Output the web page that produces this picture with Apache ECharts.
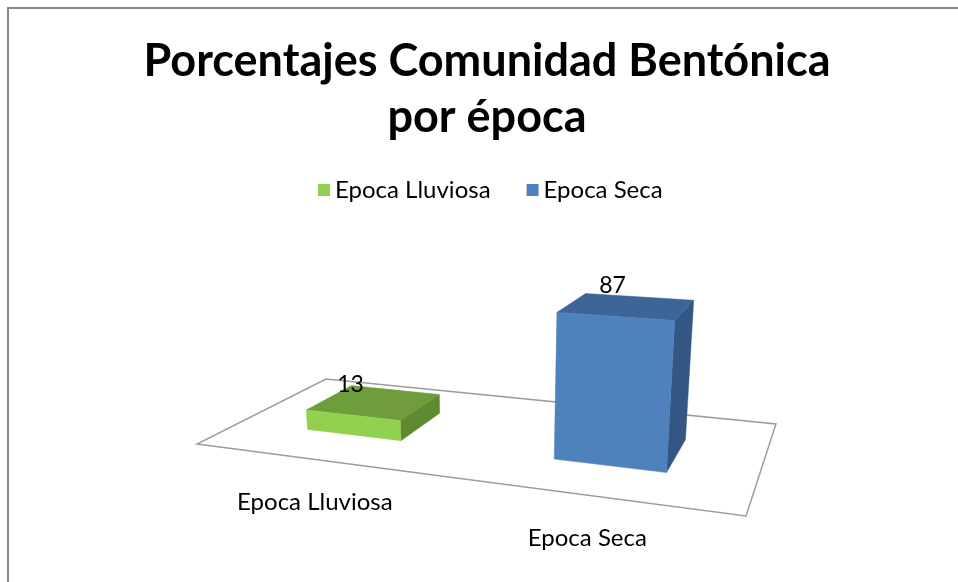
<!DOCTYPE html>
<html>
<head>
<meta charset="utf-8">
<script src="https://cdn.jsdelivr.net/npm/echarts@6/dist/echarts.min.js"></script>
<style>
html,body{margin:0;padding:0;background:#fff;}
#chart{width:958px;height:582px;}
</style>
</head>
<body>
<div id="chart"></div>
<script>
// ---- data ----
const categories = ['Epoca Lluviosa', 'Epoca Seca'];
const values = [13, 87];
const seriesNames = ['Epoca Lluviosa', 'Epoca Seca'];
const titleText = 'Porcentajes Comunidad Bentónica\npor época';

// ---- styles ----
const faceColors = [
  { front: '#92D050', top: '#6F9D3B', side: '#5E8A32' },
  { front: '#4F81BD', top: '#3E6597', side: '#335682' }
];
const FONT = 'Lato';

// ---- perspective projection of the plot floor (layout) ----
// floor quad corners (u,v): (0,0) front-left, (1,0) front-right, (1,1) back-right, (0,1) back-left
const floorQuad = [[197, 444], [746, 516], [776, 424], [326, 379]];
const vanish = [497, 3617];   // vertical vanishing point
const LAM = -0.0486;          // height scale
const depth = [0.30, 0.68];   // bar depth range on floor
const barRatio = 0.4;         // bar width / category band

function makeHomography(q) {
  const [x0, y0] = q[0], [x1, y1] = q[1], [x2, y2] = q[2], [x3, y3] = q[3];
  const dx1 = x1 - x2, dx2 = x3 - x2, dx3 = x0 - x1 + x2 - x3;
  const dy1 = y1 - y2, dy2 = y3 - y2, dy3 = y0 - y1 + y2 - y3;
  const den = dx1 * dy2 - dx2 * dy1;
  const g = (dx3 * dy2 - dx2 * dy3) / den;
  const h = (dx1 * dy3 - dx3 * dy1) / den;
  return {
    a: x1 - x0 + g * x1, b: x3 - x0 + h * x3, c: x0,
    d: y1 - y0 + g * y1, e: y3 - y0 + h * y3, f: y0,
    g: g, h: h
  };
}
const HM = makeHomography(floorQuad);
function project(u, v, hgt) {
  const X0 = HM.a * u + HM.b * v + HM.c;
  const Y0 = HM.d * u + HM.e * v + HM.f;
  const W0 = HM.g * u + HM.h * v + 1;
  const k = hgt * LAM;
  const w = W0 + k;
  return [(X0 + k * vanish[0]) / w, (Y0 + k * vanish[1]) / w];
}

function renderBar(params, api) {
  const cs = params.coordSys;
  const idx = api.value(0);
  const val = api.value(1);
  const c = api.coord([idx, 0]);
  const t = api.coord([idx, val]);
  const uc = (c[0] - cs.x) / cs.width;
  const hw = api.size([1, 0])[0] * barRatio / 2 / cs.width;
  const hgt = (c[1] - t[1]) / cs.height;
  const u0 = uc - hw, u1 = uc + hw, v0 = depth[0], v1 = depth[1];
  const col = faceColors[params.seriesIndex - 1] || faceColors[0];
  const poly = (pts, fill) => ({
    type: 'polygon',
    shape: { points: pts.map(p => project(p[0], p[1], p[2])) },
    style: { fill: fill, stroke: fill, lineWidth: 0.5 }
  });
  const lblPt = project(uc, v0, hgt);
  const catPt = project(uc, 0, 0);
  return {
    type: 'group',
    children: [
      poly([[u1, v0, 0], [u1, v1, 0], [u1, v1, hgt], [u1, v0, hgt]], col.side),
      poly([[u0, v0, hgt], [u1, v0, hgt], [u1, v1, hgt], [u0, v1, hgt]], col.top),
      poly([[u0, v0, 0], [u1, v0, 0], [u1, v0, hgt], [u0, v0, hgt]], col.front),
      {
        type: 'text', z2: 10,
        style: {
          x: lblPt[0] - 2, y: lblPt[1] - 31, text: String(val),
          fill: '#000', font: '23px ' + FONT, textAlign: 'center', textVerticalAlign: 'middle'
        }
      },
      {
        type: 'text', z2: 10,
        style: {
          x: catPt[0], y: catPt[1] + 43, text: categories[idx],
          fill: '#000', font: '24px ' + FONT, textAlign: 'center', textVerticalAlign: 'middle'
        }
      }
    ]
  };
}

function renderFloor(params, api) {
  const pts = [[0, 0], [1, 0], [1, 1], [0, 1]].map(p => project(p[0], p[1], 0));
  return {
    type: 'polygon',
    shape: { points: pts },
    style: { fill: '#fff', stroke: '#9c9c9c', lineWidth: 1.5 }
  };
}

const chart = echarts.init(document.getElementById('chart'), null, { renderer: 'canvas' });
const series = [{
  type: 'custom', name: '__floor', data: [[0, 0]], renderItem: renderFloor,
  silent: true, z: 1, tooltip: { show: false }
}].concat(categories.map((cat, i) => ({
  type: 'custom',
  name: seriesNames[i],
  data: [[i, values[i]]],
  renderItem: renderBar,
  itemStyle: { color: faceColors[i].front },
  z: 3
})));

chart.setOption({
  animation: false,
  backgroundColor: '#fff',
  title: {
    text: titleText,
    left: 487,
    textAlign: 'center',
    top: 33,
    padding: 0,
    textStyle: { fontFamily: FONT, fontWeight: 'bold', fontSize: 45, lineHeight: 56, color: '#000' }
  },
  legend: {
    data: seriesNames,
    left: 313, top: 173,
    icon: 'rect', itemWidth: 12, itemHeight: 12, itemGap: 36,
    textStyle: { fontFamily: FONT, fontSize: 24, color: '#000' }
  },
  grid: { left: 0, right: 0, top: 0, bottom: 0 },
  xAxis: { type: 'category', data: categories, show: false, boundaryGap: true },
  yAxis: { type: 'value', min: 0, max: 100, show: false },
  graphic: [{
    type: 'rect', silent: true, z: 100,
    shape: { x: 8, y: 8, width: 1200, height: 1200 },
    style: { fill: 'none', stroke: '#8a8a8a', lineWidth: 2 }
  }],
  series: series
});
</script>
</body>
</html>
